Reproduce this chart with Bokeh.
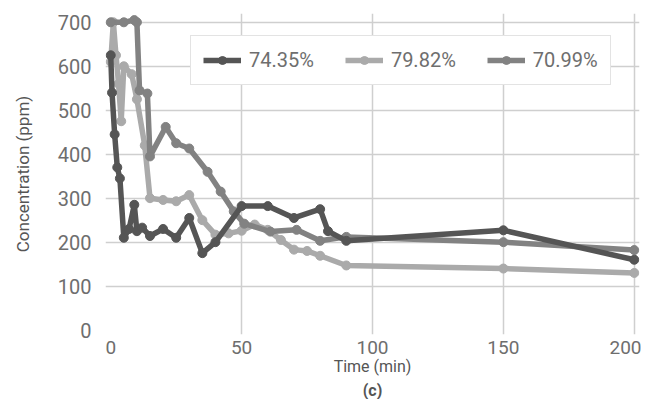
from bokeh.plotting import figure
from bokeh.models import (FixedTicker, Legend, LegendItem, Range1d, Title, ColumnDataSource)
from bokeh.embed import file_html
from bokeh.resources import INLINE

# --- data ---
t_7435 = [0, 0.5, 1.5, 2.5, 3.5, 5, 7, 9, 10, 12, 15, 20, 25, 30, 35, 40, 50, 60, 70, 80, 83, 90, 150, 200]
c_7435 = [625, 540, 445, 370, 345, 210, 230, 285, 225, 233, 214, 230, 210, 255, 175, 200, 282, 282, 255, 275, 225, 203, 227, 160]

t_7982 = [0, 1, 2, 3, 4, 5, 8, 10, 13, 15, 20, 25, 30, 35, 40, 45, 50, 55, 60, 65, 70, 75, 80, 90, 150, 200]
c_7982 = [610, 700, 625, 560, 475, 600, 582, 525, 420, 300, 296, 293, 307, 250, 217, 220, 226, 240, 228, 205, 183, 180, 169, 147, 140, 130]

t_7099 = [0, 5, 9, 10, 11, 14, 15, 21, 25, 30, 37, 42, 47, 51, 61, 71, 80, 90, 150, 200]
c_7099 = [700, 700, 705, 700, 545, 538, 395, 462, 425, 413, 360, 315, 270, 242, 224, 228, 203, 212, 200, 182]

labels = ["74.35%", "79.82%", "70.99%"]
colors = ["#555555", "#aaaaaa", "#828282"]
x_ticks = [0, 50, 100, 150, 200]
y_ticks = [0, 100, 200, 300, 400, 500, 600, 700]

FONT = "Roboto"

p = figure(frame_width=534, frame_height=321, output_backend="svg", toolbar_location=None,
           x_range=Range1d(-2, 202), y_range=Range1d(-10, 720),
           min_border_left=105, min_border_top=13, min_border_right=2, min_border_bottom=0)
p.outline_line_color = None
p.background_fill_color = "white"

series = [(t_7435, c_7435), (t_7982, c_7982), (t_7099, c_7099)]
items = {}
for idx in [1, 2, 0]:
    t, c = series[idx]
    src = ColumnDataSource(dict(x=t, y=c))
    r1 = p.line("x", "y", source=src, line_color=colors[idx], line_width=5.5, line_join="round")
    r2 = p.scatter("x", "y", source=src, size=9, fill_color=colors[idx], line_color=colors[idx])
    items[idx] = [r1, r2]

legend = Legend(items=[LegendItem(label=labels[i], renderers=items[i]) for i in range(3)],
                orientation="horizontal", location=(85, 249),
                label_text_font=FONT, label_text_font_size="20px", label_text_color="#6e6e6e",
                border_line_color="#c8c8c8", border_line_width=1.5,
                glyph_width=38, glyph_height=20, label_standoff=8, spacing=31,
                padding=12, margin=0, background_fill_alpha=1)
p.add_layout(legend)

# grids
p.xgrid.ticker = FixedTicker(ticks=[50, 100, 150, 200])
p.xgrid.bounds = (0, 700)
p.ygrid.ticker = FixedTicker(ticks=[100, 200, 300, 400, 500, 600, 700])
p.ygrid.bounds = (0, 200)
for g in (p.xgrid, p.ygrid):
    g.grid_line_color = "#cfcfcf"
    g.grid_line_width = 1.5

# axes
for ax in (p.xaxis, p.yaxis):
    ax.axis_line_color = None
    ax.major_tick_line_color = None
    ax.minor_tick_line_color = None
    ax.major_tick_out = 0
    ax.major_tick_in = 0
    ax.minor_tick_out = 0
    ax.minor_tick_in = 0
    ax.major_label_text_font = FONT
    ax.major_label_text_font_size = "20px"
    ax.major_label_text_color = "#6e6e6e"
    ax.axis_label_text_font = FONT
    ax.axis_label_text_font_size = "16px"
    ax.axis_label_text_color = "#555555"
    ax.axis_label_text_font_style = "normal"

p.xaxis.major_label_text_font_size = "19px"
p.xaxis.ticker = FixedTicker(ticks=x_ticks)
p.yaxis.ticker = FixedTicker(ticks=y_ticks)
p.xaxis.axis_label = "Time (min)"
p.yaxis.axis_label = "Concentration (ppm)"
p.yaxis.axis_label_text_font_size = "17px"
p.xaxis.major_label_standoff = 6
p.yaxis.major_label_standoff = 14
p.xaxis.axis_label_standoff = 0
p.yaxis.axis_label_standoff = 22

p.add_layout(Title(text="(c)", align="center", text_font=FONT, text_font_size="16px",
                   text_font_style="bold", text_color="#555555", standoff=0, offset=0), "below")

open("out.html", "w").write(file_html(p, INLINE))
